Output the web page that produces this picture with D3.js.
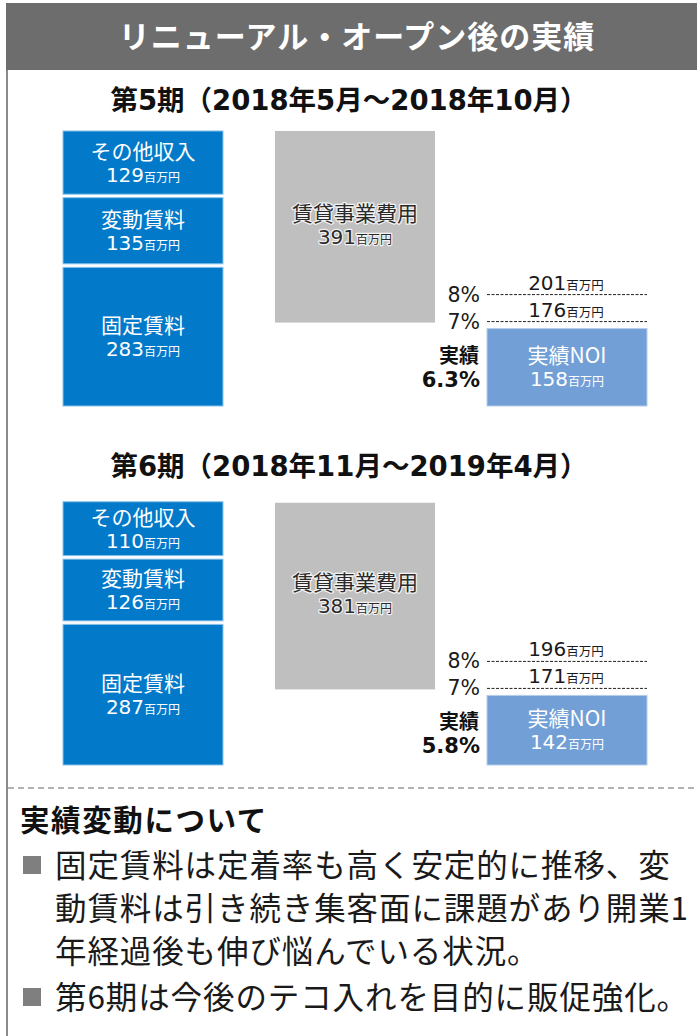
<!DOCTYPE html>
<html>
<head>
<meta charset="utf-8">
<script src="https://cdn.jsdelivr.net/npm/d3@7"></script>
<style>
  html, body { margin: 0; padding: 0; background: #fff; }
  svg { display: block; }
</style>
</head>
<body>
<div id="chart"></div>
<script>
// Chart data
const titleText = "リニューアル・オープン後の実績";
const periodLabels = ["第5期（2018年5月～2018年10月）", "第6期（2018年11月～2019年4月）"];
const revenueCategories = ["その他収入", "変動賃料", "固定賃料"];
const revenueValues = [[129, 135, 283], [110, 126, 287]];
const expenseLabel = "賃貸事業費用";
const expenseValues = [391, 381];
const noiLabel = "実績NOI";
const noiValues = [158, 142];
const thresholdLabels = ["8%", "7%"];
const thresholdValues = [[201, 176], [196, 171]];
const actualLabel = "実績";
const actualYields = ["6.3%", "5.8%"];
const unitLabel = "百万円";
const notesHeading = "実績変動について";
const notesLines = [
    ["固定賃料は定着率も高く安定的に推移、変", "動賃料は引き続き集客面に課題があり開業1", "年経過後も伸び悩んでいる状況。"],
    ["第6期は今後のテコ入れを目的に販促強化。"]
];

// Layout
const WIDTH = 697, HEIGHT = 1036;
const JP = "'Noto Sans CJK JP', sans-serif";
const NUM = "'DejaVu Sans', 'Noto Sans CJK JP', sans-serif";
const BLUE = "#0279c9";
const NOI_BLUE = "#729fd6";
const GREY_BAR = "#bfbfbf";
const panelTops = [0, 366];   // vertical offset of each period panel
const baseY = 406;            // bottom of bars in the first panel
const GAP = 3.5;

const svg = d3.select("#chart").append("svg")
    .attr("width", WIDTH)
    .attr("height", HEIGHT);

// Frame: title bar + left rule
svg.append("line")
    .attr("x1", 7).attr("x2", 7).attr("y1", 60).attr("y2", HEIGHT)
    .attr("stroke", "#8a8a8a").attr("stroke-width", 2);

svg.append("rect")
    .attr("x", 6).attr("y", 3).attr("width", WIDTH - 6).attr("height", 67)
    .attr("fill", "#6d6d6d");

svg.append("text")
    .attr("x", 357).attr("y", 48)
    .attr("text-anchor", "middle")
    .attr("font-family", JP).attr("font-weight", "bold")
    .attr("font-size", 31).attr("letter-spacing", 1)
    .attr("fill", "#fff")
    .text(titleText);

// Scales shared by both panels
const x = d3.scaleBand()
    .domain(["revenue", "expense", "noi"])
    .range([63, 647])
    .paddingInner(52 / 212);

const h = d3.scaleLinear().domain([0, 600]).range([0, 294]);

function numberWithUnit(sel, value, numSize, unitSize) {
    sel.append("tspan").attr("font-family", NUM).attr("font-size", numSize).text(value);
    sel.append("tspan").attr("font-family", JP).attr("font-size", unitSize).text(unitLabel);
}

function drawLabel(g, cx, cy, label, value, fill, halo) {
    const t = g.append("g").attr("text-anchor", "middle").attr("fill", fill);
    t.append("text")
        .attr("x", cx).attr("y", cy - 4)
        .attr("font-family", JP).attr("font-size", 21)
        .text(label);
    const n = t.append("text")
        .attr("x", cx).attr("y", cy + 19);
    numberWithUnit(n, value, 20, 12);
    if (halo) {
        t.selectAll("text")
            .attr("stroke", halo).attr("stroke-width", 2.5)
            .attr("paint-order", "stroke").attr("stroke-linejoin", "round");
    }
}

periodLabels.forEach((period, i) => {
    const off = panelTops[i];
    const base = baseY + off + (i === 1 ? -7 : 0);
    const g = svg.append("g");

    g.append("text")
        .attr("x", 349).attr("y", 110 + off)
        .attr("text-anchor", "middle")
        .attr("font-family", NUM).attr("font-weight", "bold")
        .attr("font-size", 27.5).attr("fill", "#111")
        .text(period);

    // Revenue stack, fixed rent at the bottom
    let cursor = base;
    const blocks = revenueCategories.map((c, k) => ({ c, v: revenueValues[i][k] }));
    blocks.slice().reverse().forEach(b => {
        b.y1 = cursor;
        b.y0 = cursor - h(b.v);
        cursor = b.y0 - GAP;
    });

    g.selectAll("rect.revenue")
        .data(blocks)
        .join("rect")
        .attr("class", "revenue")
        .attr("x", x("revenue"))
        .attr("y", d => d.y0)
        .attr("width", x.bandwidth())
        .attr("height", d => d.y1 - d.y0)
        .attr("fill", BLUE)
        .attr("stroke", "#8cc3ea").attr("stroke-width", 1);

    blocks.forEach(b => {
        drawLabel(g, x("revenue") + x.bandwidth() / 2, (b.y0 + b.y1) / 2, b.c, b.v, "#fff", null);
    });

    // NOI bar
    const noiTop = base - h(noiValues[i]);
    g.append("rect")
        .attr("x", x("noi")).attr("y", noiTop)
        .attr("width", x.bandwidth()).attr("height", base - noiTop)
        .attr("fill", NOI_BLUE)
        .attr("stroke", "#b5cdea").attr("stroke-width", 1);
    drawLabel(g, x("noi") + x.bandwidth() / 2, (noiTop + base) / 2, noiLabel, noiValues[i], "#fff", null);

    // Expense bar, sitting above NOI
    const expBottom = noiTop - 6;
    const expTop = expBottom - h(expenseValues[i]);
    g.append("rect")
        .attr("x", x("expense")).attr("y", expTop)
        .attr("width", x.bandwidth()).attr("height", expBottom - expTop)
        .attr("fill", GREY_BAR);
    drawLabel(g, x("expense") + x.bandwidth() / 2, (expTop + expBottom) / 2 - 2, expenseLabel, expenseValues[i], "#2a2a2a", "#f2f2f2");

    // Yield threshold rows
    const ty = d3.scalePoint().domain(thresholdLabels).range([noiTop - 34, noiTop - 7]);
    thresholdLabels.forEach((lab, k) => {
        const yy = ty(lab);
        g.append("line")
            .attr("x1", x("noi")).attr("x2", x("noi") + x.bandwidth())
            .attr("y1", yy).attr("y2", yy)
            .attr("stroke", "#222").attr("stroke-width", 1)
            .attr("stroke-dasharray", "3,1.5");
        g.append("text")
            .attr("x", 480).attr("y", yy + 7)
            .attr("text-anchor", "end")
            .attr("font-family", NUM).attr("font-size", 20.5).attr("fill", "#1a1a1a")
            .text(lab);
        const v = g.append("text")
            .attr("x", 566).attr("y", yy - 5)
            .attr("text-anchor", "middle").attr("fill", "#1a1a1a");
        numberWithUnit(v, thresholdValues[i][k], 20, 12.5);
    });

    g.append("text")
        .attr("x", 479).attr("y", noiTop + 34)
        .attr("text-anchor", "end")
        .attr("font-family", JP).attr("font-weight", "bold")
        .attr("font-size", 20).attr("fill", "#111")
        .text(actualLabel);
    g.append("text")
        .attr("x", 480).attr("y", noiTop + 58)
        .attr("text-anchor", "end")
        .attr("font-family", NUM).attr("font-weight", "bold")
        .attr("font-size", 21).attr("fill", "#111")
        .text(actualYields[i]);
});

// Notes section
svg.append("line")
    .attr("x1", 8).attr("x2", WIDTH).attr("y1", 788).attr("y2", 788)
    .attr("stroke", "#9a9a9a").attr("stroke-width", 1.5)
    .attr("stroke-dasharray", "6,4");

svg.append("text")
    .attr("x", 20).attr("y", 831)
    .attr("font-family", JP).attr("font-weight", "bold")
    .attr("font-size", 29.5).attr("letter-spacing", 1.6).attr("fill", "#111")
    .text(notesHeading);

let lineY = 877;
notesLines.forEach(para => {
    svg.append("rect")
        .attr("x", 23).attr("y", lineY - 21)
        .attr("width", 18).attr("height", 18)
        .attr("fill", "#7f7f7f");
    para.forEach((line, k) => {
        svg.append("text")
            .attr("x", 55).attr("y", lineY)
            .attr("font-family", JP).attr("font-size", 31.5)
            .attr("letter-spacing", 0.9).attr("fill", "#1a1a1a")
            .text(line);
        lineY += k === para.length - 1 ? 46 : 43;
    });
});
</script>
</body>
</html>
